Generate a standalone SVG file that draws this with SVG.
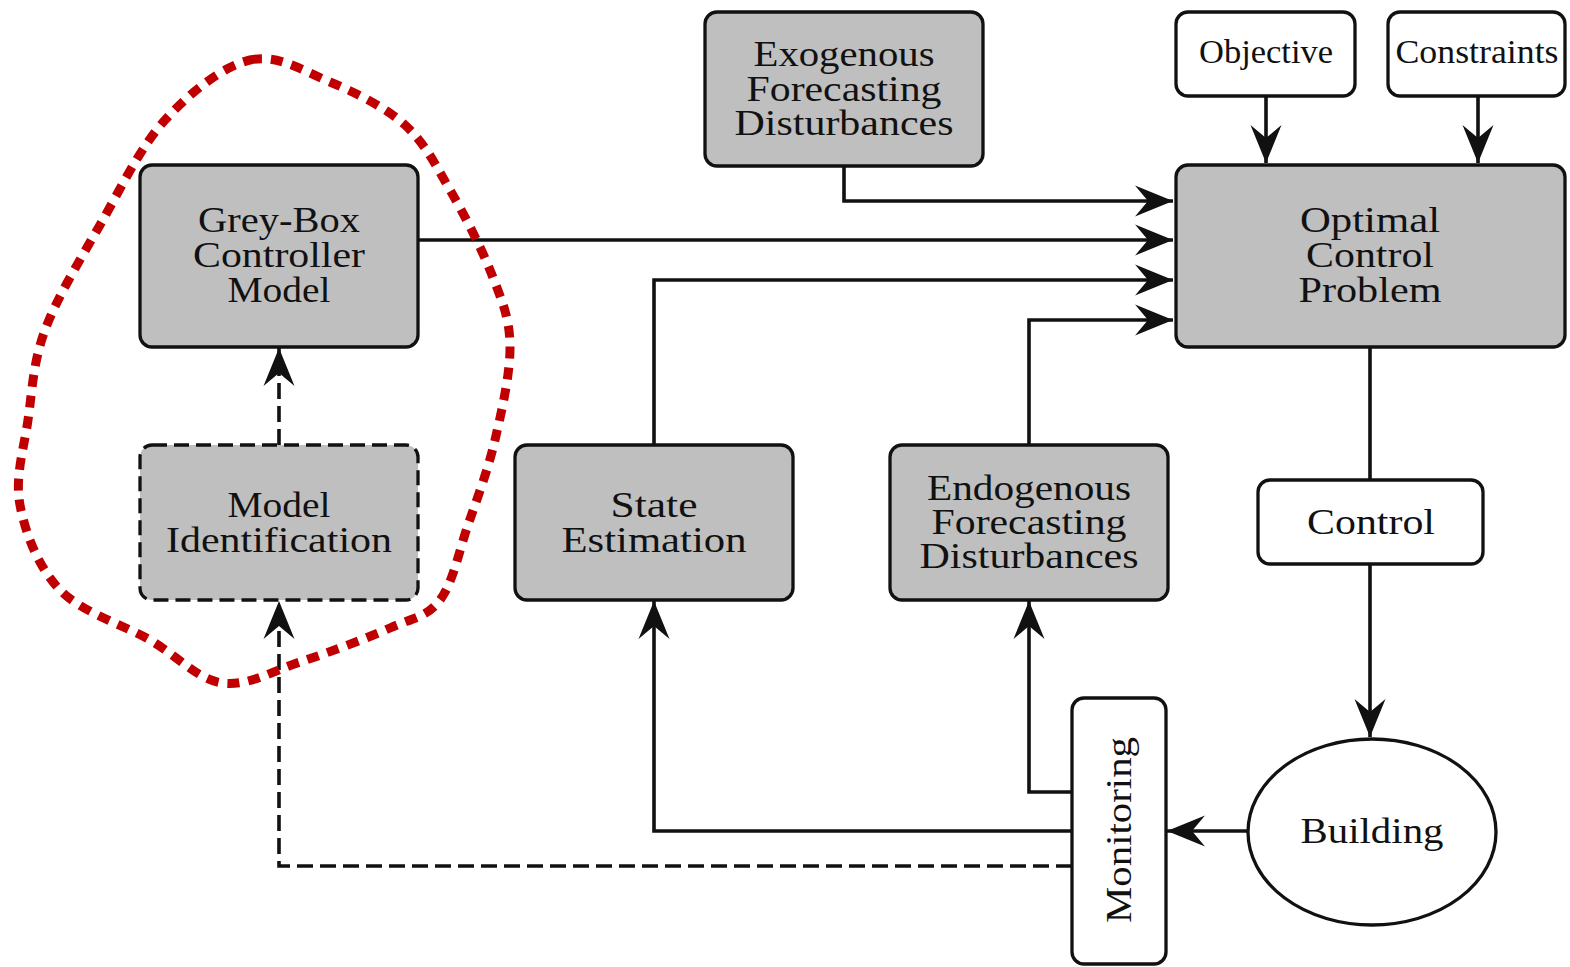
<svg xmlns="http://www.w3.org/2000/svg" width="1570" height="967" viewBox="0 0 1570 967">
  <style>
    .box { fill: #bfbfbf; stroke: #111; stroke-width: 3.3; }
    .wbox { fill: #fff; stroke: #111; stroke-width: 3.3; }
    .dash { stroke-dasharray: 15 7; }
    .lbl { font-family: "Liberation Serif", "Times New Roman", serif; font-size: 36px; fill: #111; text-anchor: middle; }
    .sm { font-size: 33px; }
    .wire { fill: none; stroke: #111; stroke-width: 3.6; }
    .wire.dash { stroke-dasharray: 16 7; }
    .blob { fill: none; stroke: #c00000; stroke-width: 9; stroke-dasharray: 12 9; }
  </style>
  <defs>
    <marker id="stealth" markerUnits="userSpaceOnUse" markerWidth="42" markerHeight="36" viewBox="-42 -18 42 36" refX="0" refY="0" orient="auto">
      <path d="M0,0 L-38,-15.5 L-25,0 L-38,15.5 Z" fill="#111"/>
    </marker>
  </defs>
  <rect width="1570" height="967" fill="#fff"/>

  <!-- connectors -->
  <g id="connectors">
    <path class="wire" d="M844,166 V201 H1173" marker-end="url(#stealth)"/>
    <path class="wire" d="M418,240 H1173" marker-end="url(#stealth)"/>
    <path class="wire" d="M654,445 V280 H1173" marker-end="url(#stealth)"/>
    <path class="wire" d="M1029,445 V320 H1173" marker-end="url(#stealth)"/>
    <path class="wire" d="M1266,96 V163" marker-end="url(#stealth)"/>
    <path class="wire" d="M1478,96 V163" marker-end="url(#stealth)"/>
    <path class="wire" d="M1370,347 V480"/>
    <path class="wire" d="M1370,564 V737" marker-end="url(#stealth)"/>
    <path class="wire" d="M1248,831 H1167" marker-end="url(#stealth)"/>
    <path class="wire" d="M1072,792 H1029 V601" marker-end="url(#stealth)"/>
    <path class="wire" d="M1072,831 H654 V601" marker-end="url(#stealth)"/>
    <path class="wire dash" d="M1072,866 H279 V601" marker-end="url(#stealth)"/>
    <path class="wire dash" d="M279,445 V348" marker-end="url(#stealth)"/>
  </g>

  <g id="exogenous">
    <rect class="box" x="705" y="12" width="278" height="154" rx="12"/>
    <text class="lbl" x="844" y="66" textLength="181" lengthAdjust="spacingAndGlyphs">Exogenous</text>
    <text class="lbl" x="844" y="101" textLength="195" lengthAdjust="spacingAndGlyphs">Forecasting</text>
    <text class="lbl" x="844" y="135" textLength="219" lengthAdjust="spacingAndGlyphs">Disturbances</text>
  </g>

  <g id="grey-box">
    <rect class="box" x="140" y="165" width="278" height="182" rx="12"/>
    <text class="lbl" x="279" y="232" textLength="162" lengthAdjust="spacingAndGlyphs">Grey-Box</text>
    <text class="lbl" x="279" y="267" textLength="172" lengthAdjust="spacingAndGlyphs">Controller</text>
    <text class="lbl" x="279" y="302" textLength="103" lengthAdjust="spacingAndGlyphs">Model</text>
  </g>

  <g id="model-identification">
    <rect class="box dash" x="140" y="445" width="278" height="155" rx="12"/>
    <text class="lbl" x="279" y="517" textLength="103" lengthAdjust="spacingAndGlyphs">Model</text>
    <text class="lbl" x="279" y="552" textLength="226" lengthAdjust="spacingAndGlyphs">Identification</text>
  </g>

  <g id="state-estimation">
    <rect class="box" x="515" y="445" width="278" height="155" rx="12"/>
    <text class="lbl" x="654" y="517" textLength="87" lengthAdjust="spacingAndGlyphs">State</text>
    <text class="lbl" x="654" y="552" textLength="185" lengthAdjust="spacingAndGlyphs">Estimation</text>
  </g>

  <g id="endogenous">
    <rect class="box" x="890" y="445" width="278" height="155" rx="12"/>
    <text class="lbl" x="1029" y="500" textLength="204" lengthAdjust="spacingAndGlyphs">Endogenous</text>
    <text class="lbl" x="1029" y="534" textLength="195" lengthAdjust="spacingAndGlyphs">Forecasting</text>
    <text class="lbl" x="1029" y="568" textLength="219" lengthAdjust="spacingAndGlyphs">Disturbances</text>
  </g>

  <g id="optimal-control">
    <rect class="box" x="1176" y="165" width="389" height="182" rx="12"/>
    <text class="lbl" x="1370" y="232" textLength="140" lengthAdjust="spacingAndGlyphs">Optimal</text>
    <text class="lbl" x="1370" y="267" textLength="128" lengthAdjust="spacingAndGlyphs">Control</text>
    <text class="lbl" x="1370" y="302" textLength="143" lengthAdjust="spacingAndGlyphs">Problem</text>
  </g>

  <g id="objective">
    <rect class="wbox" x="1176" y="12" width="179" height="84" rx="12"/>
    <text class="lbl sm" x="1266" y="63" textLength="134" lengthAdjust="spacingAndGlyphs">Objective</text>
  </g>

  <g id="constraints">
    <rect class="wbox" x="1388" y="12" width="177" height="84" rx="12"/>
    <text class="lbl sm" x="1477" y="63" textLength="163" lengthAdjust="spacingAndGlyphs">Constraints</text>
  </g>

  <g id="control">
    <rect class="wbox" x="1258" y="480" width="225" height="84" rx="12"/>
    <text class="lbl" x="1371" y="534" textLength="128" lengthAdjust="spacingAndGlyphs">Control</text>
  </g>

  <g id="building">
    <ellipse class="wbox" cx="1372" cy="832" rx="124" ry="93"/>
    <text class="lbl" x="1372" y="843" textLength="143" lengthAdjust="spacingAndGlyphs">Building</text>
  </g>

  <g id="monitoring">
    <rect class="wbox" x="1072" y="698" width="94" height="266" rx="12"/>
    <text class="lbl" transform="translate(1131,830) rotate(-90)" x="0" y="0" textLength="186" lengthAdjust="spacingAndGlyphs">Monitoring</text>
  </g>

  <!-- red dotted outline around the model pair -->
  <g id="highlight">
    <path class="blob" d="M250,60 C277.5,53.7 304.2,71.2 330,82 C355.8,92.8 385,107 405,125 C425,143 435.5,165 450,190 C464.5,215 482,249.2 492,275 C502,300.8 509.5,317.5 510,345 C510.5,372.5 502,410 495,440 C488,470 477.2,498.3 468,525 C458.8,551.7 453,582.8 440,600 C427,617.2 413.3,617.7 390,628 C366.7,638.3 328,652.8 300,662 C272,671.2 247,686.7 222,683 C197,679.3 177,655.5 150,640 C123,624.5 81.7,612.5 60,590 C38.3,567.5 25.3,533.3 20,505 C14.7,476.7 23.8,449.2 28,420 C32.2,390.8 33,362.5 45,330 C57,297.5 80,260 100,225 C120,190 140,147.5 165,120 C190,92.5 222.5,66.3 250,60 Z"/>
  </g>
</svg>
